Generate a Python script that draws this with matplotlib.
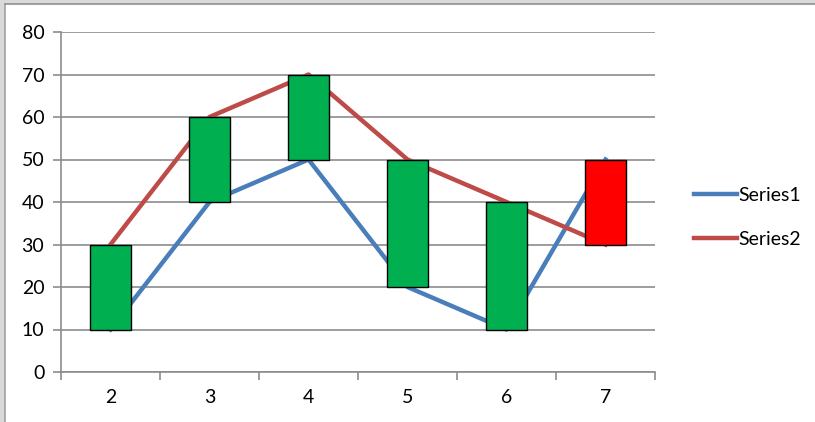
import numpy as np
import matplotlib.pyplot as plt
from matplotlib.lines import Line2D
from matplotlib.patches import Rectangle

categories = ["2", "3", "4", "5", "6", "7"]
series1 = [10, 40, 50, 20, 10, 50]
series2 = [30, 60, 70, 50, 40, 30]

plt.rcParams['font.family'] = ['Lato', 'DejaVu Sans']

fig = plt.figure(figsize=(8.15, 4.22), dpi=100)

# window frame of the screenshot (gray band on left and top)
fig.add_artist(Rectangle((0, 0), 5/815, 1, color='#d9d9d9', lw=0))
fig.add_artist(Rectangle((0, 1-4/422), 1, 4/422, color='#d9d9d9', lw=0))
fig.add_artist(Line2D([5/815, 5/815], [0, 1-4/422], color='#a0a0a0', lw=1.2))
fig.add_artist(Line2D([5/815, 1], [1-4/422, 1-4/422], color='#909090', lw=1.2))

ax = fig.add_axes([61/815, 1-372/422, (655-61)/815, (372-32)/422])

x = np.arange(len(categories))
ax.plot(x, series1, color='#4a7ebb', lw=3.2, label='Series1', zorder=3)
ax.plot(x, series2, color='#be4b48', lw=3.2, label='Series2', zorder=3)

# up/down bars between the two series
for xi, a, b in zip(x, series1, series2):
    color = '#00b050' if b >= a else '#ff0000'
    ax.bar(xi, abs(b - a), bottom=min(a, b), width=0.41, color=color,
           edgecolor='black', linewidth=1, zorder=4)

ax.set_xlim(-0.5, len(categories) - 0.5)
ax.set_ylim(0, 80)
ax.set_yticks(range(0, 81, 10))
ax.set_xticks(x)
ax.set_xticklabels(categories)
ax.set_xticks(np.arange(-0.5, len(categories)), minor=True)
ax.tick_params(axis='x', which='major', length=0, labelsize=14, pad=12)
ax.tick_params(axis='x', which='minor', length=6, color='#8c8c8c', width=1.2)
ax.tick_params(axis='y', length=6, color='#8c8c8c', width=1.2, labelsize=14, pad=6)

ax.grid(True, axis='y', color='#8c8c8c', lw=1.2, zorder=0)
ax.set_axisbelow(True)
for s in ['top', 'right']:
    ax.spines[s].set_visible(False)
for s in ['left', 'bottom']:
    ax.spines[s].set_color('#8c8c8c')
    ax.spines[s].set_linewidth(1.2)

ax.legend(loc='center left', bbox_to_anchor=(1.037, 0.455), frameon=False,
          fontsize=14, handlelength=2.2, handletextpad=0.05, labelspacing=1.4)

fig.savefig("out.png", dpi=100)
